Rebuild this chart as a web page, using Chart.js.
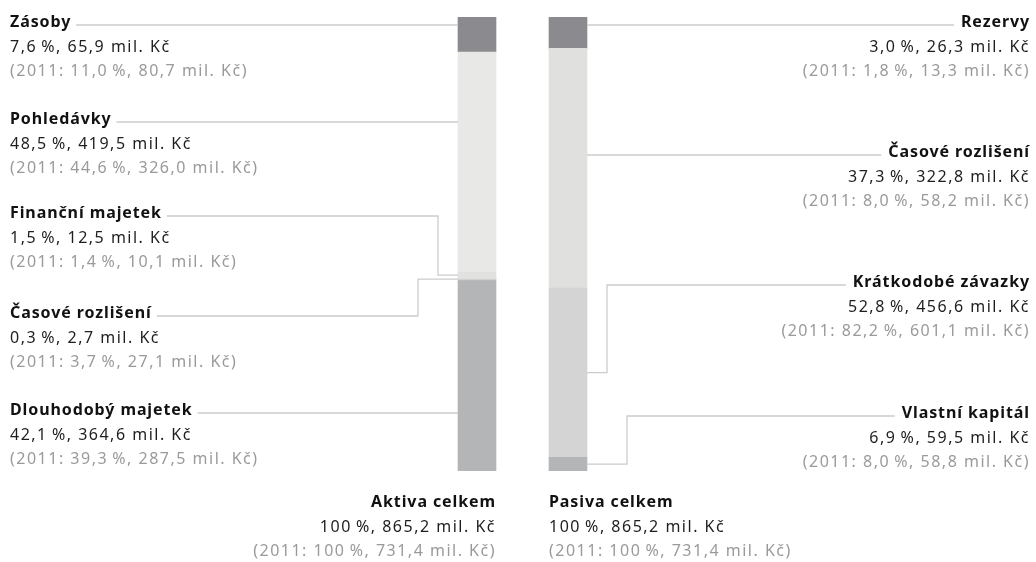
<!DOCTYPE html>
<html lang="cs">
<head>
<meta charset="utf-8">
<title>Struktura aktiv a pasiv</title>
<script src="https://cdn.jsdelivr.net/npm/chart.js@4.4.1/dist/chart.umd.min.js"></script>
<style>
  html, body { margin: 0; padding: 0; background: #fff; }
  #chart { display: block; }
</style>
</head>
<body>
<canvas id="chart" width="1036" height="562"></canvas>
<script>
// Values (mil. Kč, share in %)
const columns = ['Aktiva celkem', 'Pasiva celkem'];
const totalShare = [100, 100];
const totalAmount = [865.2, 865.2];
const totalShare2011 = [100, 100];
const totalAmount2011 = [731.4, 731.4];

const aktivaNames = ['Zásoby', 'Pohledávky', 'Finanční majetek', 'Časové rozlišení', 'Dlouhodobý majetek'];
const aktivaShare = [7.6, 48.5, 1.5, 0.3, 42.1];
const aktivaAmount = [65.9, 419.5, 12.5, 2.7, 364.6];
const aktivaShare2011 = [11.0, 44.6, 1.4, 3.7, 39.3];
const aktivaAmount2011 = [80.7, 326.0, 10.1, 27.1, 287.5];

const pasivaNames = ['Rezervy', 'Časové rozlišení', 'Krátkodobé závazky', 'Vlastní kapitál'];
const pasivaShare = [3.0, 37.3, 52.8, 6.9];
const pasivaAmount = [26.3, 322.8, 456.6, 59.5];
const pasivaShare2011 = [1.8, 8.0, 82.2, 8.0];
const pasivaAmount2011 = [13.3, 58.2, 601.1, 58.8];

const aktivaColors = ['#8b8a8f', '#e8e8e6', '#e1e1df', '#cfd0d0', '#b4b5b7'];
const pasivaColors = ['#b4b5b7', '#d3d4d3', '#e0e0df', '#8b8a8f'];

// label layout
const FONT = '"Noto Sans", sans-serif';
const FONT_SIZE = 16;
const ROW = 24.5;
const leftBase = [27, 124, 218, 318, 415];
const rightBase = [27, 157, 287, 418];
const totalBase = 507;
const lineColor = '#cccccc';

function pct(v) {
    return (v === 100 ? '100' : v.toFixed(1).replace('.', ',')) + '\u2009%';
}
function mil(v) {
    return v.toFixed(1).replace('.', ',') + ' mil. Kč';
}

// draws the three rows of one label, returns the width of the title
function drawBlock(ctx, x, y, align, title, share, amount, share11, amount11) {
    ctx.textAlign = align;
    ctx.textBaseline = 'alphabetic';
    ctx.font = 'bold ' + FONT_SIZE + 'px ' + FONT;
    ctx.letterSpacing = '0.9px';
    ctx.fillStyle = '#111111';
    ctx.fillText(title, x, y);
    const w = ctx.measureText(title).width;
    ctx.font = FONT_SIZE + 'px ' + FONT;
    ctx.letterSpacing = '1.5px';
    ctx.fillStyle = '#1e1e1e';
    ctx.fillText(pct(share) + ', ' + mil(amount), x, y + ROW);
    ctx.fillStyle = '#9a9a9a';
    ctx.fillText('(2011: ' + pct(share11) + ', ' + mil(amount11) + ')', x, y + ROW * 2);
    ctx.letterSpacing = '0px';
    return w;
}

function segmentsOf(chart, axisId, col) {
    const segs = [];
    chart.data.datasets.forEach(function(ds, i) {
        if (ds.yAxisID !== axisId) return;
        const el = chart.getDatasetMeta(i).data[col];
        segs.push({
            top: Math.min(el.y, el.base),
            bottom: Math.max(el.y, el.base),
            left: el.x - el.width / 2,
            right: el.x + el.width / 2
        });
    });
    return segs.sort(function(a, b) { return a.top - b.top; });
}

function leader(ctx, x0, ly, seg, side, k) {
    const edge = side === 'left' ? seg.left : seg.right;
    const dir = side === 'left' ? -1 : 1;
    ctx.beginPath();
    ctx.moveTo(x0, ly);
    if (ly >= seg.top && ly <= seg.bottom) {
        ctx.lineTo(edge, ly);
    } else {
        const ex = edge + dir * (20 + 20 * k);
        const cy = (seg.top + seg.bottom) / 2;
        ctx.lineTo(ex, ly);
        ctx.lineTo(ex, cy);
        ctx.lineTo(edge, cy);
    }
    ctx.stroke();
}

const labelPlugin = {
    id: 'balanceLabels',
    afterDatasetsDraw(chart) {
        const ctx = chart.ctx;
        ctx.save();
        ctx.strokeStyle = lineColor;
        ctx.lineWidth = 1.3;

        const aSegs = segmentsOf(chart, 'yA', 0);
        let k = 0;
        aktivaNames.forEach(function(name, i) {
            const y = leftBase[i];
            const w = drawBlock(ctx, 10, y, 'left', name, aktivaShare[i], aktivaAmount[i],
                aktivaShare2011[i], aktivaAmount2011[i]);
            const seg = aSegs[i];
            const ly = y - 2;
            const straight = ly >= seg.top && ly <= seg.bottom;
            leader(ctx, 10 + w + 5, ly, seg, 'left', k);
            if (!straight) k++;
        });

        const pSegs = segmentsOf(chart, 'yP', 1);
        k = 0;
        pasivaNames.forEach(function(name, i) {
            const y = rightBase[i];
            const w = drawBlock(ctx, 1030, y, 'right', name, pasivaShare[i], pasivaAmount[i],
                pasivaShare2011[i], pasivaAmount2011[i]);
            const seg = pSegs[i];
            const ly = y - 2;
            const straight = ly >= seg.top && ly <= seg.bottom;
            leader(ctx, 1030 - w - 7, ly, seg, 'right', k);
            if (!straight) k++;
        });

        drawBlock(ctx, aSegs[0].right, totalBase, 'right', columns[0], totalShare[0],
            totalAmount[0], totalShare2011[0], totalAmount2011[0]);
        drawBlock(ctx, pSegs[0].left, totalBase, 'left', columns[1], totalShare[1],
            totalAmount[1], totalShare2011[1], totalAmount2011[1]);
        ctx.restore();
    }
};

const datasets = [];
aktivaNames.forEach(function(name, i) {
    datasets.push({
        label: name,
        data: [aktivaShare[i], null],
        backgroundColor: aktivaColors[i],
        yAxisID: 'yA',
        stack: 'all'
    });
});
pasivaNames.forEach(function(name, i) {
    datasets.push({
        label: name,
        data: [null, pasivaShare[i]],
        backgroundColor: pasivaColors[i],
        yAxisID: 'yP',
        stack: 'all'
    });
});

new Chart(document.getElementById('chart').getContext('2d'), {
    type: 'bar',
    data: { labels: columns, datasets: datasets },
    options: {
        responsive: false,
        animation: false,
        barThickness: 38,
        borderWidth: 0,
        layout: { padding: { left: 431.5, right: 422.5, top: 17, bottom: 91 } },
        scales: {
            x: { stacked: true, display: false },
            yA: { stacked: true, display: false, min: 0, max: 100, reverse: true },
            yP: { stacked: true, display: false, min: 0, max: 100 }
        },
        plugins: {
            legend: { display: false },
            tooltip: { enabled: false }
        }
    },
    plugins: [labelPlugin]
});
</script>
</body>
</html>
